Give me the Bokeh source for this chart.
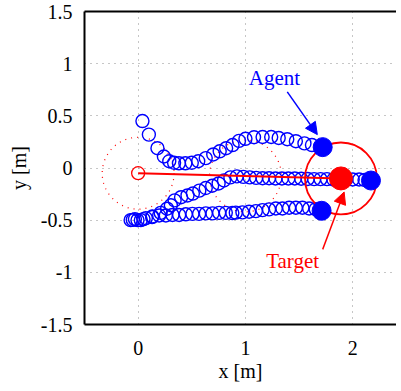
from bokeh.plotting import figure
from bokeh.models import (Range1d, FixedTicker, Arrow, NormalHead, LinearAxis, Label,
                          CustomJSTickFormatter)
from bokeh.embed import file_html
from bokeh.resources import INLINE

# ---- data ----
x_ticks = [0, 1, 2]
x_tick_labels = ["0", "1", "2"]
y_ticks = [-1.5, -1.0, -0.5, 0.0, 0.5, 1.0, 1.5]
y_tick_labels = ["-1.5", "-1", "-0.5", "0", "0.5", "1", "1.5"]

agent1_x = [0.04, 0.10, 0.18, 0.24, 0.29, 0.335, 0.38, 0.44, 0.50, 0.56, 0.63, 0.70,
            0.76, 0.82, 0.88, 0.94, 1.00, 1.08, 1.16, 1.24, 1.31, 1.39, 1.47, 1.55, 1.62]
agent1_y = [0.45, 0.32, 0.19, 0.11, 0.065, 0.05, 0.045, 0.045, 0.05, 0.065, 0.095, 0.13,
            0.16, 0.19, 0.22, 0.26, 0.28, 0.295, 0.297, 0.297, 0.288, 0.276, 0.257, 0.236, 0.22]

agent2_x = [-0.03, 0.05, 0.13, 0.21, 0.27, 0.305, 0.34, 0.40, 0.46, 0.51, 0.57, 0.63, 0.69,
            0.75, 0.80, 0.86, 0.92, 0.98, 1.04, 1.10, 1.16, 1.22, 1.28, 1.34, 1.40, 1.46,
            1.52, 1.58, 1.64, 1.70, 1.76, 1.82, 1.88, 1.94, 2.00, 2.06, 2.11]
agent2_y = [-0.49, -0.49, -0.47, -0.43, -0.39, -0.357, -0.31, -0.28, -0.263, -0.245, -0.217,
            -0.192, -0.17, -0.148, -0.12, -0.09, -0.08, -0.085, -0.09, -0.095, -0.098, -0.098,
            -0.10, -0.10, -0.10, -0.10, -0.103, -0.105, -0.107, -0.107, -0.107, -0.11, -0.11,
            -0.11, -0.11, -0.11, -0.115]

agent3_x = [-0.07, -0.05, -0.006, 0.025, 0.072, 0.133, 0.196, 0.258, 0.320, 0.382, 0.444,
            0.506, 0.568, 0.631, 0.693, 0.755, 0.817, 0.878, 0.91, 0.972, 1.034, 1.097,
            1.159, 1.22, 1.283, 1.345, 1.407, 1.47, 1.531, 1.594, 1.655]
agent3_y = [-0.50, -0.497, -0.50, -0.50, -0.48, -0.465, -0.455, -0.455, -0.45, -0.45, -0.444,
            -0.44, -0.44, -0.435, -0.435, -0.43, -0.43, -0.432, -0.428, -0.425, -0.419, -0.413,
            -0.404, -0.397, -0.388, -0.388, -0.381, -0.381, -0.381, -0.388, -0.395]

agents_final_x = [1.72, 2.17, 1.71]
agents_final_y = [0.20, -0.12, -0.41]

target_path_x = [0.0, 1.89]
target_path_y = [-0.05, -0.10]
target_start = (0.0, -0.05)
target_end = (1.89, -0.10)
capture_radius = 0.335
dotted_centers_x = [0.0, 1.0]
dotted_centers_y = [-0.05, -0.076]

BLUE = "#0000ff"
RED = "#ff0000"
FONT = "Liberation Serif"

p = figure(width=396, height=384, output_backend="svg", toolbar_location=None,
           x_range=Range1d(-0.5, 2.408), y_range=Range1d(-1.5, 1.5),
           min_border_left=84, min_border_right=0, min_border_top=11, min_border_bottom=50,
           background_fill_color="white", border_fill_color="white")
p.outline_line_color = None

p.xaxis.axis_label = "x [m]"
p.yaxis.axis_label = "y [m]"
p.axis.axis_label_text_font = FONT
p.axis.axis_label_text_font_style = "normal"
p.axis.axis_label_text_font_size = "20px"
p.axis.axis_label_text_color = "black"
p.axis.axis_line_width = 2
p.axis.axis_line_color = "black"
p.axis.major_tick_line_color = None
p.axis.minor_tick_line_color = None
p.axis.major_label_text_font = FONT
p.axis.major_label_text_font_style = "normal"
p.axis.major_label_text_font_size = "20px"
p.axis.major_label_text_color = "black"
p.xaxis.ticker = FixedTicker(ticks=x_ticks)
p.yaxis.ticker = FixedTicker(ticks=y_ticks)
p.xaxis.formatter = CustomJSTickFormatter(args=dict(t=x_ticks, l=x_tick_labels), code="""
    const i = t.findIndex(v => Math.abs(v - tick) < 1e-9); return i >= 0 ? l[i] : String(tick);
""")
p.yaxis.formatter = CustomJSTickFormatter(args=dict(t=y_ticks, l=y_tick_labels), code="""
    const i = t.findIndex(v => Math.abs(v - tick) < 1e-9); return i >= 0 ? l[i] : String(tick);
""")
p.xaxis.major_label_standoff = 10
p.yaxis.major_label_standoff = 6
p.xaxis.axis_label_standoff = 2
p.yaxis.axis_label_standoff = 8

top_ax = LinearAxis(ticker=FixedTicker(ticks=[]), axis_line_width=2, axis_line_color="black",
                    major_tick_line_color=None, minor_tick_line_color=None,
                    major_label_text_font_size="0px", major_label_standoff=0)
p.add_layout(top_ax, "above")

p.xgrid.ticker = FixedTicker(ticks=x_ticks)
p.ygrid.ticker = FixedTicker(ticks=y_ticks)
for g in (p.xgrid[0], p.ygrid[0]):
    g.grid_line_color = "#8c8c8c"
    g.grid_line_dash = "1 5"
    g.grid_line_width = 1

# dotted circles (target region at earlier times)
p.circle(x=dotted_centers_x, y=dotted_centers_y, radius=capture_radius, fill_color=None,
         line_color=RED, line_dash="1 5", line_width=1.2)

# agent trajectories
for ax_, ay_ in ((agent1_x, agent1_y), (agent2_x, agent2_y), (agent3_x, agent3_y)):
    p.scatter(ax_, ay_, size=13, marker="circle", fill_color=None, line_color=BLUE,
              line_width=1.4)

# target path
p.line(target_path_x, target_path_y, line_color=RED, line_width=2)
p.scatter([target_start[0]], [target_start[1]], size=13, marker="circle", fill_color=None,
          line_color=RED, line_width=1.3)
p.circle(x=[target_end[0]], y=[target_end[1]], radius=capture_radius, fill_color=None,
         line_color=RED, line_width=1.8)

# final positions
p.scatter(agents_final_x, agents_final_y, size=19, marker="circle", fill_color=BLUE,
          line_color=BLUE)
p.scatter([target_end[0]], [target_end[1]], size=23, marker="circle", fill_color=RED,
          line_color=RED)

# annotations
p.add_layout(Arrow(end=NormalHead(size=12, fill_color=BLUE, line_color=BLUE),
                   x_start=1.39, y_start=0.73, x_end=1.67, y_end=0.32,
                   line_color=BLUE, line_width=1.5))
p.add_layout(Arrow(end=NormalHead(size=12, fill_color=RED, line_color=RED),
                   x_start=1.72, y_start=-0.78, x_end=1.92, y_end=-0.23,
                   line_color=RED, line_width=1.5))
p.add_layout(Label(x=1.27, y=0.86, text="Agent", text_font=FONT, text_font_size="21px",
                   text_color=BLUE, text_align="center", text_baseline="middle"))
p.add_layout(Label(x=1.44, y=-0.89, text="Target", text_font=FONT, text_font_size="21px",
                   text_color=RED, text_align="center", text_baseline="middle"))

open("out.html", "w").write(file_html(p, INLINE))
